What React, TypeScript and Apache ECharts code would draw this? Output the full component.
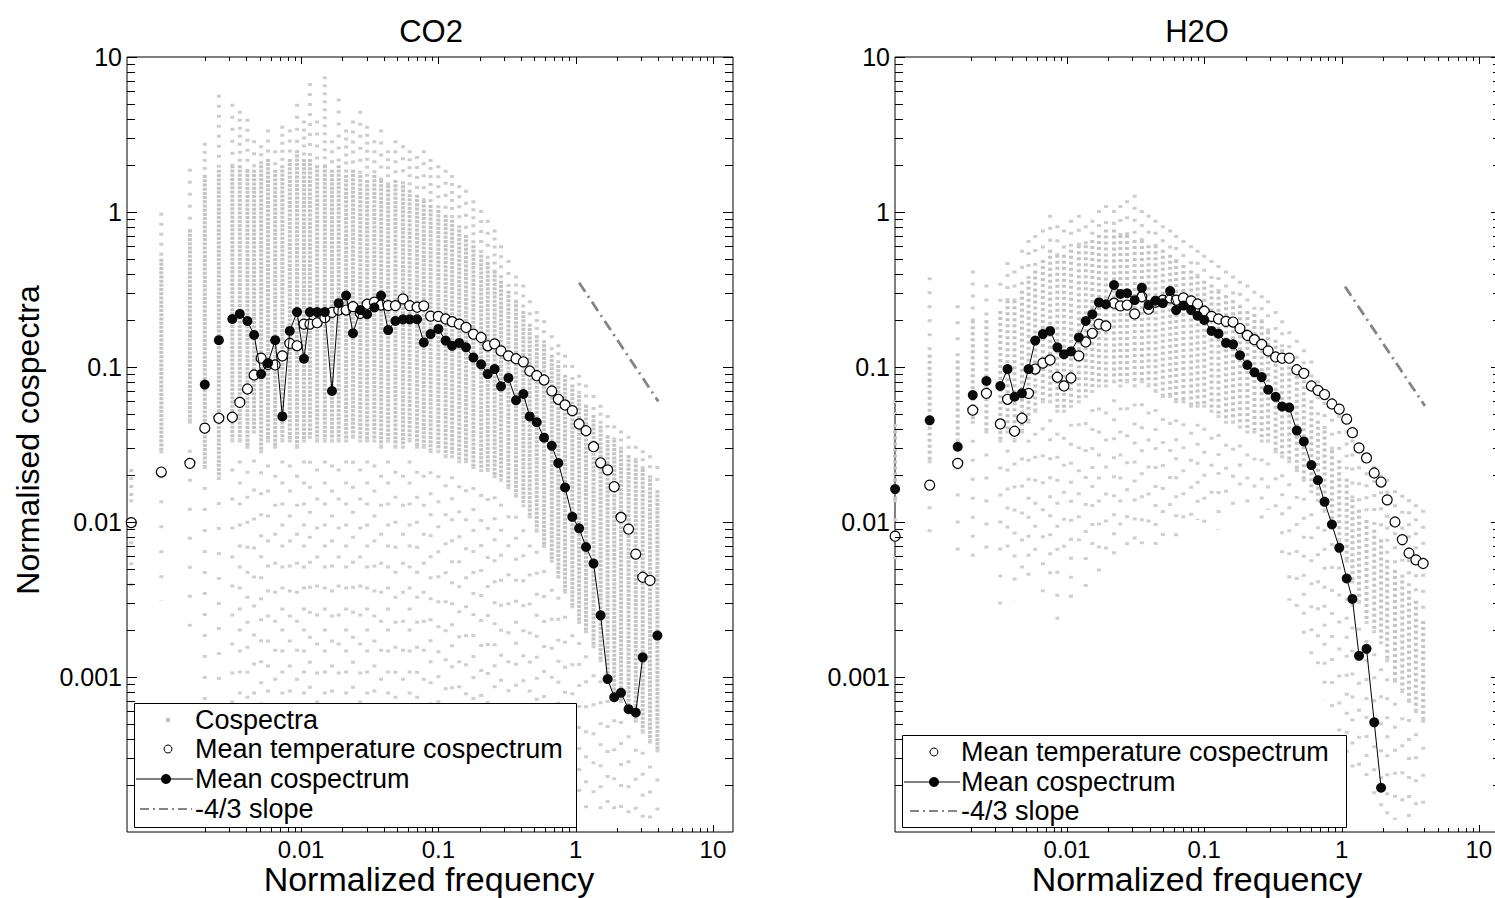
import React, { useEffect, useRef } from "react";
import * as echarts from "echarts";

const FONT = "'Liberation Sans', Arial, Helvetica, sans-serif";

// ---------------- CO2 panel ----------------
const co2Freq = [
  0.00058, 0.00096, 0.00155, 0.00199, 0.00252, 0.00316, 0.00358, 0.00407, 0.00455, 0.00512,
  0.00575, 0.00648, 0.00731, 0.00828, 0.00935, 0.0105, 0.0116, 0.0131, 0.0149, 0.0168,
  0.0188, 0.0213, 0.0239, 0.027, 0.0303, 0.0342, 0.0383, 0.0431, 0.0487, 0.0553,
  0.0618, 0.07, 0.0783, 0.0878, 0.1, 0.113, 0.126, 0.142, 0.159, 0.18,
  0.205, 0.229, 0.257, 0.286, 0.324, 0.368, 0.416, 0.463, 0.521, 0.589,
  0.67, 0.748, 0.837, 0.946, 1.06, 1.19, 1.35, 1.52, 1.71, 1.91,
  2.14, 2.43, 2.74, 3.08, 3.48, 3.94,
];
const co2Mean = [
  null, null, null, 0.077, 0.149, 0.204, 0.22, 0.198, 0.161, 0.09,
  0.106, 0.149, 0.048, 0.171, 0.226, 0.113, 0.226, 0.226, 0.226, 0.07,
  0.258, 0.289, 0.165, 0.233, 0.219, 0.242, 0.289, 0.173, 0.198, 0.203,
  0.203, 0.203, 0.144, 0.163, 0.176, 0.148, 0.137, 0.143, 0.134, 0.115,
  0.104, 0.09, 0.097, 0.075, 0.085, 0.061, 0.067, 0.048, 0.044, 0.035,
  0.031, 0.024, 0.0167, 0.0108, 0.0091, 0.0069, 0.0054, 0.0025, 0.00097, 0.00074,
  0.00079, 0.00062, 0.00059, 0.00134, null, 0.00185,
];
// indices of columns where the mean-cospectrum line starts a new segment (skipped bins)
const co2MeanBreaks = [4, 5, 65];
const co2TempMean = [
  0.0099, 0.021, 0.0239, 0.0403, 0.0467, 0.0474, 0.0591, 0.0721, 0.0888, 0.114,
  0.104, 0.103, 0.118, 0.142, 0.137, 0.189, 0.189, 0.193, 0.208, 0.225,
  0.233, 0.233, 0.245, 0.222, 0.254, 0.262, 0.251, 0.249, 0.249, 0.275,
  0.249, 0.243, 0.248, 0.213, 0.212, 0.204, 0.196, 0.189, 0.18, 0.163,
  0.155, 0.137, 0.141, 0.127, 0.118, 0.113, 0.108, 0.0942, 0.0879, 0.0824,
  0.07, 0.0619, 0.0569, 0.0523, 0.0429, 0.0388, 0.0306, 0.0241, 0.0217, 0.0169,
  0.0107, 0.009, 0.0062, 0.0044, 0.0042, null,
];
// individual cospectra: per frequency column, extent of sparse / dense points
const co2GrayTop = [
  0.022, 0.99, 1.9, 2.8, 5.7, 5.0, 4.5, 4.0, 2.9, 2.7,
  3.4, 2.5, 3.6, 3.4, 5.0, 3.9, 6.8, 3.9, 7.5, 2.9,
  5.4, 3.4, 3.9, 4.5, 3.6, 2.9, 3.4, 2.5, 2.9, 2.7,
  2.5, 2.3, 2.5, 2.2, 2.0, 1.87, 1.73, 1.49, 1.39, 1.19,
  1.03, 0.89, 0.77, 0.61, 0.49, 0.39, 0.34, 0.27, 0.23, 0.2,
  0.16, 0.14, 0.12, 0.103, 0.089, 0.077, 0.066, 0.057, 0.049, 0.042,
  0.039, 0.036, 0.031, 0.029, 0.027, 0.023,
];
const co2DenseTop = [
  0.014, 0.5, 0.77, 1.73, 1.87, 2.0, 2.0, 1.87, 1.87, 2.0,
  2.2, 1.87, 2.0, 2.2, 2.5, 2.2, 2.2, 2.0, 2.0, 1.87,
  2.0, 1.73, 1.87, 1.73, 1.61, 1.73, 1.61, 1.49, 1.61, 1.49,
  1.39, 1.29, 1.19, 1.11, 1.03, 0.96, 0.89, 0.77, 0.71, 0.61,
  0.53, 0.475, 0.42, 0.36, 0.31, 0.27, 0.23, 0.19, 0.16, 0.14,
  0.12, 0.103, 0.089, 0.077, 0.066, 0.057, 0.049, 0.042, 0.036, 0.034,
  0.029, 0.027, 0.025, 0.022, 0.019, 0.016,
];
const co2DenseBottom = [
  0.014, 0.029, 0.045, 0.023, 0.0195, 0.034, 0.034, 0.031, 0.039, 0.029,
  0.034, 0.031, 0.034, 0.034, 0.031, 0.034, 0.036, 0.034, 0.034, 0.034,
  0.034, 0.034, 0.036, 0.034, 0.034, 0.034, 0.031, 0.034, 0.031, 0.031,
  0.034, 0.031, 0.031, 0.029, 0.029, 0.027, 0.027, 0.025, 0.025, 0.023,
  0.022, 0.022, 0.02, 0.019, 0.017, 0.015, 0.013, 0.011, 0.0089, 0.0071,
  0.0057, 0.0045, 0.0036, 0.0029, 0.0023, 0.002, 0.0016, 0.0013, 0.00103, 0.00082,
  0.00071, 0.00061, 0.00053, 0.00045, 0.00039, 0.00034,
];
const co2GrayBottom = [
  0.0031, 0.0031, 0.0017, 0.00053, 0.00071, 0.00029, 0.00053, 0.00025, 0.00071, 0.00029,
  0.00071, 0.00029, 0.00039, 0.00071, 0.00029, 0.00053, 0.00071, 0.00029, 0.00045, 0.00022,
  0.00071, 0.00029, 0.00053, 0.00029, 0.00039, 0.00071, 0.00022, 0.00053, 0.00039, 0.00071,
  0.00029, 0.00053, 0.00071, 0.00039, 0.00053, 0.00029, 0.00071, 0.00039, 0.00053, 0.00029,
  0.00071, 0.00039, 0.00053, 0.00034, 0.00053, 0.00029, 0.00039, 0.00025, 0.00034, 0.00019,
  0.00025, 0.00016, 0.00019, 0.00014, 0.00016, 0.00012, 0.00014, 0.00011, 0.00012, 0.000103,
  0.00011, 0.000103, 0.000103, 0.000103, 0.000103, 0.00011,
];
const co2Slope = [
  [1.06, 0.35],
  [4.0, 0.06],
];

// ---------------- H2O panel ----------------
const h2oFreq = [
  0.00056, 0.001, 0.0016, 0.00206, 0.00259, 0.00327, 0.00369, 0.00415, 0.0047, 0.00525,
  0.00587, 0.00667, 0.00754, 0.00851, 0.00951, 0.0107, 0.0122, 0.0137, 0.0153, 0.0171,
  0.0192, 0.022, 0.0245, 0.0274, 0.0311, 0.0351, 0.0393, 0.0442, 0.0499, 0.0564,
  0.0624, 0.0705, 0.0802, 0.0894, 0.1, 0.113, 0.127, 0.144, 0.162, 0.182,
  0.206, 0.232, 0.262, 0.292, 0.331, 0.369, 0.416, 0.472, 0.531, 0.603,
  0.673, 0.752, 0.851, 0.962, 1.09, 1.2, 1.34, 1.52, 1.73, 1.94,
  2.15, 2.45, 2.77, 3.1, 3.48, 3.93,
];
const h2oMean = [
  0.0163, 0.0453, 0.0306, 0.0659, 0.0812, 0.0754, 0.097, 0.0643, 0.0676, 0.097,
  0.148, 0.163, 0.171, 0.134, 0.121, 0.126, 0.155, 0.198, 0.219, 0.261,
  0.254, 0.338, 0.296, 0.299, 0.27, 0.325, 0.251, 0.268, 0.258, 0.309,
  0.233, 0.249, 0.233, 0.214, 0.201, 0.171, 0.164, 0.143, 0.14, 0.119,
  0.103, 0.0924, 0.0861, 0.0714, 0.0642, 0.0556, 0.0547, 0.0389, 0.0331, 0.0233,
  0.0186, 0.0135, 0.00963, 0.00681, 0.00432, 0.00319, 0.00137, 0.00152, 0.00051, 0.000193,
  null, null, null, null, null, null,
];
const h2oMeanBreaks = [1, 2, 3, 4, 5];
const h2oTempMean = [
  0.0081, 0.0173, 0.0239, 0.0526, 0.0676, 0.0429, 0.0619, 0.0385, 0.0467, 0.0676,
  0.097, 0.106, 0.111, 0.0859, 0.0754, 0.0849, 0.118, 0.145, 0.165, 0.189,
  0.184, 0.258, 0.248, 0.251, 0.22, 0.284, 0.236, 0.262, 0.27, 0.279,
  0.27, 0.279, 0.267, 0.255, 0.229, 0.212, 0.204, 0.197, 0.195, 0.177,
  0.16, 0.15, 0.14, 0.127, 0.116, 0.114, 0.114, 0.096, 0.091, 0.0754,
  0.0707, 0.0664, 0.0577, 0.0535, 0.0461, 0.0377, 0.0301, 0.0259, 0.0207, 0.0181,
  0.0139, 0.01, 0.0077, 0.0063, 0.0057, 0.0054,
];
const h2oGrayTop = [
  0.061, 0.38, 0.25, 0.42, 0.34, 0.35, 0.475, 0.42, 0.57, 0.66,
  0.71, 0.77, 0.96, 0.82, 0.77, 0.89, 0.96, 0.82, 0.89, 1.03,
  1.11, 1.03, 1.11, 1.19, 1.29, 1.03, 0.96, 0.89, 0.82, 0.77,
  0.71, 0.66, 0.61, 0.57, 0.53, 0.49, 0.455, 0.42, 0.39, 0.36,
  0.34, 0.31, 0.29, 0.27, 0.23, 0.2, 0.17, 0.15, 0.13, 0.11,
  0.082, 0.071, 0.057, 0.049, 0.039, 0.034, 0.029, 0.025, 0.023, 0.02,
  0.019, 0.016, 0.015, 0.014, 0.013, 0.012,
];
const h2oDenseTop = [
  0.039, 0.12, 0.11, 0.2, 0.2, 0.23, 0.27, 0.27, 0.31, 0.36,
  0.42, 0.49, 0.57, 0.53, 0.53, 0.57, 0.61, 0.61, 0.66, 0.71,
  0.77, 0.77, 0.71, 0.71, 0.66, 0.66, 0.61, 0.61, 0.57, 0.53,
  0.49, 0.455, 0.42, 0.39, 0.36, 0.34, 0.31, 0.29, 0.27, 0.25,
  0.23, 0.22, 0.2, 0.17, 0.15, 0.13, 0.11, 0.096, 0.082, 0.061,
  0.045, 0.039, 0.029, 0.025, 0.019, 0.014, 0.012, 0.0103, 0.0089, 0.0077,
  0.0057, 0.0049, 0.0042, 0.0036, 0.0031, 0.0023,
];
const h2oDenseBottom = [
  0.014, 0.025, 0.034, 0.045, 0.039, 0.034, 0.039, 0.034, 0.039, 0.045,
  0.053, 0.061, 0.061, 0.053, 0.053, 0.057, 0.061, 0.066, 0.071, 0.077,
  0.077, 0.082, 0.077, 0.082, 0.077, 0.082, 0.077, 0.071, 0.066, 0.066,
  0.061, 0.061, 0.057, 0.057, 0.057, 0.053, 0.049, 0.045, 0.045, 0.042,
  0.039, 0.039, 0.034, 0.034, 0.029, 0.027, 0.025, 0.022, 0.019, 0.016,
  0.014, 0.012, 0.0103, 0.0077, 0.0057, 0.0042, 0.0031, 0.0023, 0.002, 0.0017,
  0.0013, 0.00096, 0.00082, 0.00071, 0.00061, 0.00053,
];
const h2oGrayBottom = [
  0.0049, 0.0077, 0.0057, 0.0057, 0.0057, 0.0023, 0.0057, 0.0031, 0.0049, 0.0036,
  0.0057, 0.0031, 0.0042, 0.002, 0.0049, 0.0031, 0.0057, 0.0036, 0.0057, 0.0042,
  0.0066, 0.0057, 0.0077, 0.0057, 0.0077, 0.0066, 0.0089, 0.0057, 0.0077, 0.0103,
  0.0077, 0.0103, 0.0077, 0.0103, 0.0089, 0.012, 0.0089, 0.012, 0.0103, 0.014,
  0.0103, 0.014, 0.0103, 0.012, 0.0089, 0.0057, 0.0031, 0.0023, 0.0017, 0.0013,
  0.00096, 0.00071, 0.00053, 0.00039, 0.00029, 0.00025, 0.00022, 0.00019, 0.00016, 0.00014,
  0.00012, 0.00012, 0.00011, 0.00011, 0.00011, 0.00011,
];
const h2oSlope = [
  [1.06, 0.33],
  [4.05, 0.056],
];

// ---------------- axes ----------------
const xMajorTicks = [0.01, 0.1, 1, 10];
const xTickLabels = ["0.01", "0.1", "1", "10"];
const yMajorTicks = [0.001, 0.01, 0.1, 1, 10];
const yTickLabels = ["0.001", "0.01", "0.1", "1", "10"];
const xMinorDecades = [0.001, 0.01, 0.1, 1];
const yMinorDecades = [0.0001, 0.001, 0.01, 0.1, 1];
const minorSteps = [2, 3, 4, 5, 6, 7, 8, 9];

const panelTitles = ["CO2", "H2O"];
const xName = "Normalized frequency";
const yName = "Normalised cospectra";
const legendCo2 = ["Cospectra", "Mean temperature cospectrum", "Mean cospectrum", "-4/3 slope"];
const legendH2o = ["Mean temperature cospectrum", "Mean cospectrum", "-4/3 slope"];

function labelFormatter(values: number[], texts: string[]) {
  return (v: number) => {
    const i = values.findIndex((t) => Math.abs(Math.log10(v) - Math.log10(t)) < 0.01);
    return i >= 0 ? texts[i] : "";
  };
}

function tickData(major: number[], decades: number[]) {
  const out: number[][] = [];
  decades.forEach((d) => minorSteps.forEach((m) => out.push([d * m, 0])));
  major.forEach((m) => out.push([m, 1]));
  return out;
}

function xTickSeries(gi: number) {
  return {
    type: "custom",
    xAxisIndex: gi,
    yAxisIndex: gi,
    silent: true,
    z: 10,
    data: tickData(xMajorTicks, xMinorDecades).map(([v, m]) => [v, 1, m]),
    renderItem: (params: any, api: any) => {
      const cs = params.coordSys;
      const len = api.value(2) ? 7 : 4;
      const px = Math.round(api.coord([api.value(0), 1])[0]) + 0.5;
      const b = cs.y + cs.height;
      const t = cs.y;
      const st = { stroke: "#000", lineWidth: 1 };
      return {
        type: "group",
        children: [
          { type: "line", shape: { x1: px, y1: b, x2: px, y2: b - len }, style: st },
          { type: "line", shape: { x1: px, y1: t, x2: px, y2: t + len }, style: st },
        ],
      };
    },
  };
}

function yTickSeries(gi: number) {
  return {
    type: "custom",
    xAxisIndex: gi,
    yAxisIndex: gi,
    silent: true,
    z: 10,
    data: tickData(yMajorTicks, yMinorDecades).map(([v, m]) => [1, v, m]),
    renderItem: (params: any, api: any) => {
      const cs = params.coordSys;
      const len = api.value(2) ? 10 : 8;
      const py = Math.round(api.coord([1, api.value(1)])[1]) + 0.5;
      const l = cs.x;
      const r = cs.x + cs.width;
      const st = { stroke: "#000", lineWidth: 1 };
      return {
        type: "group",
        children: [
          { type: "line", shape: { x1: l, y1: py, x2: l + len, y2: py }, style: st },
          { type: "line", shape: { x1: r, y1: py, x2: r - len, y2: py }, style: st },
        ],
      };
    },
  };
}

function graySeries(
  gi: number,
  freq: number[],
  top: number[],
  dTop: number[],
  dBot: number[],
  bot: number[],
  denseDash: number[],
  topDash: number[],
  botDash: number[]
) {
  const data = freq.map((f, i) => [f, top[i], dTop[i], dBot[i], bot[i]]);
  return {
    type: "custom",
    name: "Cospectra",
    xAxisIndex: gi,
    yAxisIndex: gi,
    silent: true,
    z: 1,
    dimensions: ["f", "top", "dTop", "dBot", "bot"],
    encode: { x: 0, y: [1, 2, 3, 4] },
    data,
    renderItem: (params: any, api: any) => {
      const f = api.value(0);
      const pts = [1, 2, 3, 4].map((k) => api.coord([f, api.value(k)]));
      const x = pts[0][0];
      const k = params.dataIndex % 3;
      const mk = (a: number[], b: number[], dash: number[], color: string) => ({
        type: "line",
        shape: { x1: x, y1: a[1], x2: x, y2: b[1] },
        style: { stroke: color, lineWidth: 4, lineDash: dash, fill: null },
      });
      return {
        type: "group",
        children: [
          mk(pts[0], pts[1], [topDash[0], topDash[1] + k * 2], "#cdcdcd"),
          mk(pts[1], pts[2], denseDash, "#c4c4c4"),
          mk(pts[2], pts[3], [botDash[0], botDash[1] + k * 4], "#cfcfcf"),
        ],
      };
    },
  };
}

function meanPairs(freq: number[], vals: (number | null)[], breaks: number[]) {
  const out: any[] = [];
  freq.forEach((f, i) => {
    const v = vals[i];
    if (breaks.indexOf(i) >= 0) out.push(["-", "-"]);
    if (v != null) out.push([f, v]);
  });
  return out;
}

function pairs(freq: number[], vals: (number | null)[]) {
  const out: number[][] = [];
  freq.forEach((f, i) => {
    const v = vals[i];
    if (v != null) out.push([f, v]);
  });
  return out;
}

function panelSeries(
  gi: number,
  freq: number[],
  temp: (number | null)[],
  mean: (number | null)[],
  breaks: number[],
  slope: number[][]
) {
  return [
    {
      type: "scatter",
      name: "Mean temperature cospectrum",
      xAxisIndex: gi,
      yAxisIndex: gi,
      z: 3,
      symbol: "circle",
      symbolSize: 10,
      itemStyle: { color: "#fff", borderColor: "#000", borderWidth: 1.2, opacity: 1 },
      data: pairs(freq, temp),
    },
    {
      type: "line",
      name: "Mean cospectrum",
      xAxisIndex: gi,
      yAxisIndex: gi,
      z: 4,
      symbol: "circle",
      symbolSize: 10,
      showAllSymbol: true,
      connectNulls: false,
      itemStyle: { color: "#0a0a0a", borderColor: "#0a0a0a", borderWidth: 0 },
      lineStyle: { color: "#000", width: 1 },
      data: meanPairs(freq, mean, breaks),
    },
    {
      type: "line",
      name: "-4/3 slope",
      xAxisIndex: gi,
      yAxisIndex: gi,
      z: 5,
      symbol: "none",
      lineStyle: { color: "#858585", width: 2.8, type: [11, 5, 2, 5] },
      data: slope,
    },
  ];
}

const axisLabelBase = { fontSize: 24, color: "#000", fontFamily: FONT };

function xAxisDef(gi: number, min: number, max: number) {
  return {
    type: "log",
    gridIndex: gi,
    min,
    max,
    axisLine: { show: false },
    axisTick: { show: false },
    splitLine: { show: false },
    minorTick: { show: false },
    axisLabel: { ...axisLabelBase, margin: 5, formatter: labelFormatter(xMajorTicks, xTickLabels) },
  };
}

function yAxisDef(gi: number) {
  return {
    type: "log",
    gridIndex: gi,
    min: 0.0001,
    max: 10,
    axisLine: { show: false },
    axisTick: { show: false },
    splitLine: { show: false },
    minorTick: { show: false },
    axisLabel: {
      ...axisLabelBase,
      fontSize: 25,
      margin: 5,
      formatter: labelFormatter(yMajorTicks, yTickLabels),
    },
  };
}

function txt(text: string, x: number, y: number, size: number, align = "left", rotation = 0) {
  return {
    type: "text",
    x,
    y,
    rotation,
    z: 100,
    silent: true,
    style: { text, fill: "#000", fontSize: size, fontFamily: FONT, align, verticalAlign: "middle" },
  };
}

function legendGraphics() {
  const g: any[] = [];
  const LS = 27;
  // CO2 legend
  g.push({
    type: "rect",
    z: 99,
    shape: { x: 134.5, y: 703.5, width: 442, height: 124 },
    style: { fill: "#fff", stroke: "#000", lineWidth: 1 },
  });
  g.push({ type: "circle", z: 100, shape: { cx: 168, cy: 720, r: 2.2 }, style: { fill: "#bdbdbd" } });
  g.push(txt(legendCo2[0], 195, 720, LS));
  g.push({
    type: "circle",
    z: 100,
    shape: { cx: 168, cy: 749, r: 4 },
    style: { fill: "#fff", stroke: "#000", lineWidth: 1 },
  });
  g.push(txt(legendCo2[1], 195, 749, LS));
  g.push({ type: "line", z: 100, shape: { x1: 136, y1: 779, x2: 193, y2: 779 }, style: { stroke: "#000", lineWidth: 1 } });
  g.push({ type: "circle", z: 101, shape: { cx: 166, cy: 779, r: 5 }, style: { fill: "#000" } });
  g.push(txt(legendCo2[2], 195, 779, LS));
  g.push({
    type: "line",
    z: 100,
    shape: { x1: 140, y1: 809, x2: 192, y2: 809 },
    style: { stroke: "#858585", lineWidth: 2, lineDash: [9, 4, 2, 4] },
  });
  g.push(txt(legendCo2[3], 195, 809, LS));

  // H2O legend
  g.push({
    type: "rect",
    z: 99,
    shape: { x: 902.5, y: 735.5, width: 444, height: 92 },
    style: { fill: "#fff", stroke: "#000", lineWidth: 1 },
  });
  g.push({
    type: "circle",
    z: 100,
    shape: { cx: 934, cy: 752, r: 4 },
    style: { fill: "#fff", stroke: "#000", lineWidth: 1 },
  });
  g.push(txt(legendH2o[0], 961, 752, LS));
  g.push({ type: "line", z: 100, shape: { x1: 904, y1: 782, x2: 960, y2: 782 }, style: { stroke: "#000", lineWidth: 1 } });
  g.push({ type: "circle", z: 101, shape: { cx: 934, cy: 782, r: 5 }, style: { fill: "#000" } });
  g.push(txt(legendH2o[1], 961, 782, LS));
  g.push({
    type: "line",
    z: 100,
    shape: { x1: 910, y1: 811, x2: 958, y2: 811 },
    style: { stroke: "#858585", lineWidth: 2, lineDash: [9, 4, 2, 4] },
  });
  g.push(txt(legendH2o[2], 961, 811, LS));

  // titles and axis names
  g.push(txt(panelTitles[0], 431, 31, 31, "center"));
  g.push(txt(panelTitles[1], 1197, 31, 31, "center"));
  g.push(txt(xName, 429, 879, 34, "center"));
  g.push(txt(xName, 1197, 879, 34, "center"));
  g.push(txt(yName, 28, 440, 32, "center", Math.PI / 2));
  return g;
}

function buildOption() {
  const gridBase = {
    top: 57,
    width: 606,
    height: 775,
    show: true,
    borderColor: "#000",
    borderWidth: 1,
    backgroundColor: "transparent",
    containLabel: false,
    outerBoundsMode: "none",
  };
  return {
    animation: false,
    backgroundColor: "#fff",
    textStyle: { fontFamily: FONT },
    grid: [
      { ...gridBase, left: 127 },
      { ...gridBase, left: 895 },
    ],
    xAxis: [xAxisDef(0, 0.00054, 14.0), xAxisDef(1, 0.000559, 14.5)],
    yAxis: [yAxisDef(0), yAxisDef(1)],
    series: [
      graySeries(0, co2Freq, co2GrayTop, co2DenseTop, co2DenseBottom, co2GrayBottom, [3, 1.2], [3, 5], [3, 18]),
      ...panelSeries(0, co2Freq, co2TempMean, co2Mean, co2MeanBreaks, co2Slope),
      xTickSeries(0),
      yTickSeries(0),
      graySeries(1, h2oFreq, h2oGrayTop, h2oDenseTop, h2oDenseBottom, h2oGrayBottom, [3, 3], [3, 9], [3, 16]),
      ...panelSeries(1, h2oFreq, h2oTempMean, h2oMean, h2oMeanBreaks, h2oSlope),
      xTickSeries(1),
      yTickSeries(1),
    ],
    graphic: legendGraphics(),
  };
}

export default function App() {
  const ref = useRef<HTMLDivElement>(null);
  useEffect(() => {
    if (!ref.current) return;
    const chart = echarts.init(ref.current, null, { renderer: "svg" });
    chart.setOption(buildOption() as any);
    return () => chart.dispose();
  }, []);
  return (
    <div
      ref={ref}
      style={{ position: "fixed", left: 0, top: 0, width: 1502, height: 898, background: "#fff" }}
    />
  );
}
